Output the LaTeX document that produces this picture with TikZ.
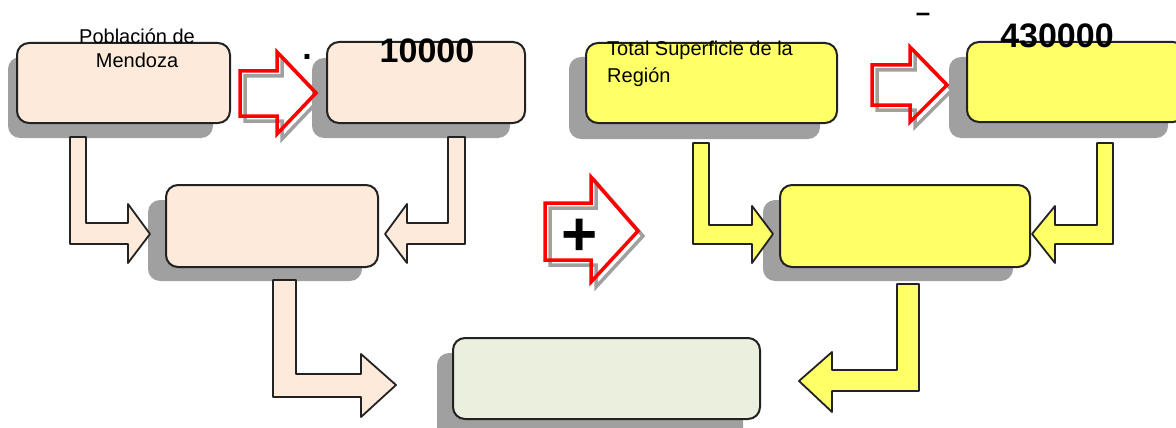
\documentclass[tikz,border=0pt]{standalone}
\usepackage{fontspec}
\setmainfont{Liberation Sans}
\begin{document}
\begin{tikzpicture}[x=1pt,y=-1pt]
\definecolor{peach}{HTML}{FDEADA}
\definecolor{lemon}{HTML}{FFFF66}
\definecolor{sage}{HTML}{EBF0DE}
\definecolor{shadowgray}{HTML}{A0A0A0}
\definecolor{edge}{HTML}{222222}
\tikzset{
  box/.style={draw=edge, line width=2pt, rounded corners=12pt, inner sep=0pt},
  shade/.style={fill=shadowgray, rounded corners=12pt},
  bent/.style={draw=edge, line width=1.8pt, line join=round},
  redarrow/.style={draw=red, line width=3.5pt, line join=miter},
  redshadow/.style={draw=shadowgray, line width=3.5pt, line join=miter},
  lbl/.style={font=\fontsize{20}{23}\selectfont, inner sep=0pt, anchor=base},
  big/.style={font=\bfseries\fontsize{34}{40}\selectfont, inner sep=0pt, anchor=base},
}
\useasboundingbox (0,0) rectangle (1176,428);
\clip (0,0) rectangle (1176,428);

% shadows
\fill[shade] (8,57) rectangle (213,138);
\fill[shade] (312,58) rectangle (510,138);
\fill[shade] (569,57) rectangle (820,139);
\fill[shade] (949,57) rectangle (1168,138);
\fill[shade] (148,200) rectangle (362,281);
\fill[shade] (763,200) rectangle (1013,281);
\fill[shade] (437,353) rectangle (743,440);

% boxes
\node[box, fill=peach, minimum width=213pt, minimum height=80pt] (pop) at (123.5,83) {};
\node[box, fill=peach, minimum width=198pt, minimum height=81pt] (diez) at (426,82.5) {};
\node[box, fill=lemon, minimum width=251pt, minimum height=80pt] (sup) at (711.5,83) {};
\node[box, fill=lemon, minimum width=218pt, minimum height=80pt] (cuatro) at (1076,82) {};
\node[box, fill=peach, minimum width=212pt, minimum height=82pt] (resA) at (272,226) {};
\node[box, fill=lemon, minimum width=250pt, minimum height=82pt] (resB) at (905,226) {};
\node[box, fill=sage, minimum width=307pt, minimum height=81pt] (total) at (606.5,378.5) {};

% texts
\node[lbl] (popl1) at (137,44) {Población de};
\node[lbl] (popl2) at (137,67) {Mendoza};
\node[big] (n1) at (427,63) {10000};
\node[lbl, anchor=base west] (sup1) at (607,56) {Total Superficie de la};
\node[lbl, anchor=base west] (sup2) at (607,82) {Región};
\node[big] (n2) at (1057,48) {430000};
\node[big] (dot) at (307,60) {.};
\node[font=\bfseries\fontsize{26}{30}\selectfont, inner sep=0pt, anchor=base] (dash) at (923,22) {–};

% red arrows
\draw[redshadow, shift={(5,5)}] (240,71) -- (277,71) -- (277,52) -- (316,93) -- (277,134) -- (277,116) -- (240,116) -- cycle;
\draw[redarrow] (240,71) -- (277,71) -- (277,52) -- (316,93) -- (277,134) -- (277,116) -- (240,116) -- cycle;
\draw[redshadow, shift={(5,5)}] (872,65) -- (910,65) -- (910,47) -- (947,85) -- (910,122) -- (910,105) -- (872,105) -- cycle;
\draw[redarrow] (872,65) -- (910,65) -- (910,47) -- (947,85) -- (910,122) -- (910,105) -- (872,105) -- cycle;
\draw[redshadow, shift={(5,5)}] (545,203) -- (591,203) -- (591,177) -- (638,231) -- (591,282) -- (591,260) -- (545,260) -- cycle;
\draw[redarrow] (545,203) -- (591,203) -- (591,177) -- (638,231) -- (591,282) -- (591,260) -- (545,260) -- cycle;
\node[font=\bfseries\fontsize{62}{70}\selectfont, inner sep=0pt, anchor=base] (plus) at (580,255) {+};

% bent arrows
\draw[bent, fill=peach] (70,137) -- (86,137) -- (86,223) -- (128,223) -- (128,204) -- (150,234) -- (128,263) -- (128,244) -- (70,244) -- cycle;
\draw[bent, fill=peach] (465,137) -- (448,137) -- (448,223) -- (407,223) -- (407,204) -- (385,234) -- (407,263) -- (407,244) -- (465,244) -- cycle;
\draw[bent, fill=lemon] (693,143) -- (709,143) -- (709,225) -- (752,225) -- (752,206) -- (773,234) -- (752,263) -- (752,244) -- (693,244) -- cycle;
\draw[bent, fill=lemon] (1113,143) -- (1097,143) -- (1097,225) -- (1055,225) -- (1055,206) -- (1032,234) -- (1055,263) -- (1055,244) -- (1113,244) -- cycle;
\draw[bent, fill=peach] (273,280) -- (296,280) -- (296,374) -- (361,374) -- (361,354) -- (396,385) -- (361,417) -- (361,397) -- (273,397) -- cycle;
\draw[bent, fill=lemon] (919,284) -- (897,284) -- (897,370) -- (832,370) -- (832,352) -- (799,381) -- (832,412) -- (832,391) -- (919,391) -- cycle;
\end{tikzpicture}
\end{document}
